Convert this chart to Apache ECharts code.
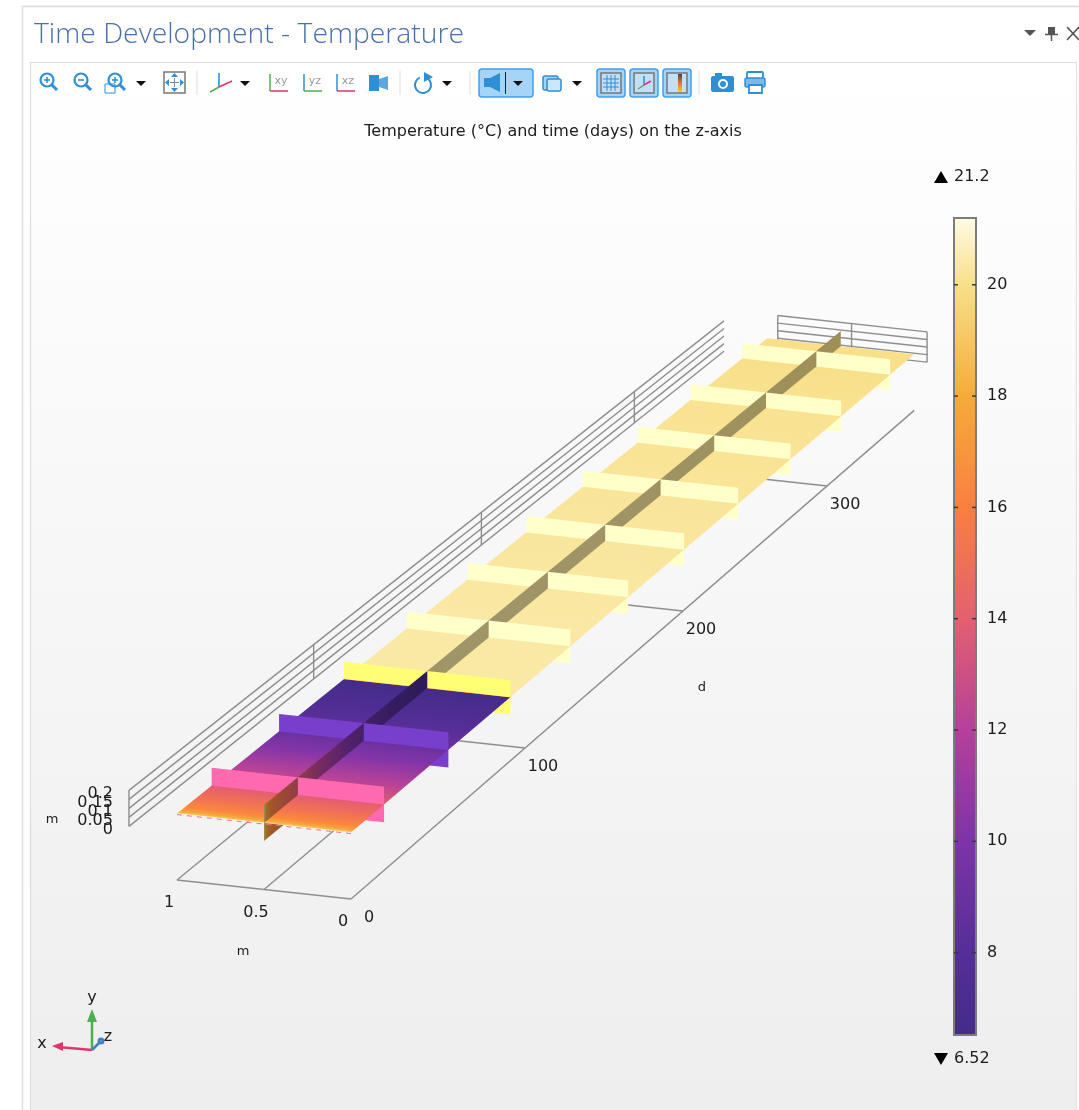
<!DOCTYPE html>
<html>
<head>
<meta charset="utf-8">
<title>Time Development - Temperature</title>
<script src="https://cdn.jsdelivr.net/npm/echarts@6/dist/echarts.min.js"></script>
<style>
html, body { margin: 0; padding: 0; background: #fff; }
#main { width: 1079px; height: 1110px; }
</style>
</head>
<body>
<div id="main"></div>
<script>
// colour table
var barValues = [6.52, 8, 10, 12, 14, 16, 18, 20, 21.2];
var barColors = ['#432c88', '#552e98', '#7d34a8', '#b5409a', '#e55f70', '#fb7f40', '#f5ac38', '#f8e08a', '#fffbe6'];
var barTicks = [8, 10, 12, 14, 16, 18, 20];
var barMin = 6.52;
var barMax = 21.2;

// surface temperature along the time axis (mid height of the plate)
var plateDays = [0, 0.5, 1.5, 4, 10, 18.25, 30, 45, 54.75, 70, 85, 90.8, 91.25, 92, 127.75, 164.25, 200.75, 237.25, 273.75, 310.25, 346.75, 365];
var plateTemps = [20.6, 18.8, 17.8, 16.4, 15.2, 13.9, 12.2, 10.2, 9.1, 7.8, 6.9, 6.6, 15, 20.35, 20.35, 20.3, 20.25, 20.2, 20.15, 20.1, 20.0, 19.95];

// cross sections drawn as upright faces
var sectionDays = [18.25, 54.75, 91.25, 127.75, 164.25, 200.75, 237.25, 273.75, 310.25, 346.75];
var sectionTemps = [13, 8.3, 18.8, 20.2, 20.2, 20.2, 20.2, 20.2, 20.2, 20.2];

// axis ticks
var xTicks = [0, 0.5, 1];
var yTicks = [0, 0.05, 0.1, 0.15, 0.2];
var dayTicks = [100, 200, 300];
var dayEnd = 365;

var sectionLight = 1.32;
var ribShade = 0.64;
var plateY = 0.1;
var plateTop = 0.2;
var floorY = -0.269;
var wallX = 1.276;
var wallEnd = 363;
var backDay = 372;
var backX = [-0.026, 0.49, 0.994];

// camera: x (m), y (m), t (days) -> picture coordinates
function project(x, y, t) {
    var T = t / 100;
    var w = 1 + 0.0506 * T;
    return [
        (351 - 174 * x + 200.56 * T) / w,
        (899 - 19 * x - 113.1 * T - 180 * (y - floorY)) / w
    ];
}

function hexRgb(c) {
    return [parseInt(c.substr(1, 2), 16), parseInt(c.substr(3, 2), 16), parseInt(c.substr(5, 2), 16)];
}

function tempColor(v, light) {
    var i = 0;
    while (i < barValues.length - 2 && v > barValues[i + 1]) i++;
    var f = (v - barValues[i]) / (barValues[i + 1] - barValues[i]);
    f = Math.max(0, Math.min(1, f));
    var a = hexRgb(barColors[i]), b = hexRgb(barColors[i + 1]);
    var out = [];
    for (var k = 0; k < 3; k++) {
        out.push(Math.min(255, Math.round((a[k] + (b[k] - a[k]) * f) * light)));
    }
    return 'rgb(' + out.join(',') + ')';
}

// a face is a polygon in data space, with a flat colour or a temperature run along t
function plateFace() {
    var a = 0, b = dayEnd;
    return {
        pts: [[1, plateY, a], [0, plateY, a], [0, plateY, b], [1, plateY, b]],
        from: 0, to: plateDays.length - 1, light: 1,
        iso: function (t) { return [[1, plateY, t], [0, plateY, t]]; }
    };
}
function ribFace(from, to, y0, y1) {
    var a = plateDays[from], b = plateDays[to];
    return {
        pts: [[0.5, y0, a], [0.5, y1, a], [0.5, y1, b], [0.5, y0, b]],
        from: from, to: to, light: ribShade,
        iso: function (t) { return [[0.5, y0, t], [0.5, y1, t]]; }
    };
}
function sectionFaces(k, y0, y1) {
    var t = sectionDays[k];
    var c = tempColor(sectionTemps[k], sectionLight);
    return [
        { pts: [[1, y0, t], [0.5, y0, t], [0.5, y1, t], [1, y1, t]], color: c },
        { pts: [[0.5, y0, t], [0, y0, t], [0, y1, t], [0.5, y1, t]], color: c }
    ];
}

// painter's order: below the plate, the plate, then above it from back to front
var faces = [];
function addLayer(y0, y1) {
    var to = plateDays.length - 1;
    for (var k = sectionDays.length - 1; k >= -1; k--) {
        var from = k >= 0 ? plateDays.indexOf(sectionDays[k]) : 0;
        faces.push(ribFace(from, to, y0, y1));
        if (k >= 0) faces = faces.concat(sectionFaces(k, y0, y1));
        to = from;
    }
}
addLayer(0, plateY);
faces.push(plateFace());
addLayer(plateY, plateTop);

// grid lines
var wallLines = [];
yTicks.forEach(function (y) {
    wallLines.push([[wallX, y, 0], [wallX, y, wallEnd]]);
    wallLines.push([[backX[0], y, backDay], [backX[2], y, backDay]]);
});
[0].concat(dayTicks).forEach(function (d) {
    wallLines.push([[wallX, 0, d], [wallX, plateTop, d]]);
});
backX.forEach(function (x) {
    wallLines.push([[x, 0, backDay], [x, plateTop, backDay]]);
});
var floorLines = [];
xTicks.forEach(function (x) {
    floorLines.push([[x, floorY, 0], [x, floorY, dayEnd]]);
});
[0].concat(dayTicks).forEach(function (d) {
    floorLines.push([[0, floorY, d], [1, floorY, d]]);
});

// tick labels: text, anchor in data space, pixel offset, alignment
var tickLabels = [];
yTicks.forEach(function (y) {
    tickLabels.push({ text: String(y), at: [wallX, y, 0], dx: -16, dy: 4, align: 'right' });
});
xTicks.forEach(function (x) {
    tickLabels.push({ text: String(x), at: [x, floorY, 0], dx: -8, dy: 23, align: 'center' });
});
[0].concat(dayTicks).forEach(function (d) {
    tickLabels.push({ text: String(d), at: [0, floorY, d], dx: 18, dy: 19, align: 'center' });
});

function toPixels(api, p) {
    return api.coord(project(p[0], p[1], p[2]));
}

function renderFace(params, api) {
    var f = faces[api.value(0)];
    var pts = f.pts.map(function (p) { return toPixels(api, p); });
    var fill = f.color;
    if (!fill) {
        // one gradient over the whole run, perpendicular to the constant-time edges
        var e0 = f.iso(plateDays[f.from]);
        var a0 = toPixels(api, e0[0]), a1 = toPixels(api, e0[1]);
        var ux = a1[0] - a0[0], uy = a1[1] - a0[1];
        var len = Math.sqrt(ux * ux + uy * uy);
        var nx = -uy / len, ny = ux / len;
        var along = function (t) {
            var p = toPixels(api, f.iso(t)[0]);
            return (p[0] - a0[0]) * nx + (p[1] - a0[1]) * ny;
        };
        var total = along(plateDays[f.to]);
        var stops = [];
        for (var i = f.from; i <= f.to; i++) {
            stops.push({ offset: along(plateDays[i]) / total, color: tempColor(plateTemps[i], f.light) });
        }
        fill = new echarts.graphic.LinearGradient(a0[0], a0[1], a0[0] + nx * total, a0[1] + ny * total, stops, true);
    }
    return {
        type: 'polygon',
        shape: { points: pts },
        style: { fill: fill }
    };
}

function lineSeries(lines, z) {
    return {
        type: 'custom',
        xAxisIndex: 0,
        yAxisIndex: 0,
        coordinateSystem: 'cartesian2d',
        silent: true,
        clip: false,
        z: z,
        data: lines.map(function (l, i) { return [i]; }),
        renderItem: function (params, api) {
            var l = lines[api.value(0)];
            var a = toPixels(api, l[0]), b = toPixels(api, l[1]);
            return {
                type: 'line',
                shape: { x1: a[0], y1: a[1], x2: b[0], y2: b[1] },
                style: { stroke: '#8e8e8e', lineWidth: 1.4 }
            };
        }
    };
}

var fontName = '"DejaVu Sans", sans-serif';
var ink = '#1c1c1c';
var blue = '#2f8fd6';

// --- window chrome, not data ---
function txt(x, y, s, size, align, color, weight, family) {
    return {
        type: 'text', silent: true, z: 30,
        style: {
            x: x, y: y, text: s, fill: color || ink, textAlign: align || 'center', textVerticalAlign: 'middle',
            font: (weight || 'normal') + ' ' + size + 'px ' + (family || fontName)
        }
    };
}
function rect(x, y, w, h, fill, stroke, r, lw) {
    return {
        type: 'rect', silent: true, z: 20, shape: { x: x, y: y, width: w, height: h, r: r || 0 },
        style: { fill: fill || 'none', stroke: stroke || 'none', lineWidth: lw || 1 }
    };
}
function seg(x1, y1, x2, y2, stroke, lw) {
    return {
        type: 'line', silent: true, z: 21, shape: { x1: x1, y1: y1, x2: x2, y2: y2 },
        style: { stroke: stroke, lineWidth: lw || 1 }
    };
}
function poly(points, fill) {
    return { type: 'polygon', silent: true, z: 21, shape: { points: points }, style: { fill: fill } };
}
function ring(cx, cy, r, stroke, lw) {
    return {
        type: 'circle', silent: true, z: 21, shape: { cx: cx, cy: cy, r: r },
        style: { fill: 'none', stroke: stroke, lineWidth: lw || 2 }
    };
}
function dropArrow(x, y) {
    return poly([[x - 5, y - 2], [x + 5, y - 2], [x, y + 3]], '#111');
}
function lens(cx, cy, plus) {
    var out = [ring(cx, cy, 6.5, blue, 2.2), seg(cx + 4.5, cy + 4.5, cx + 10, cy + 10, blue, 3)];
    out.push(seg(cx - 3, cy, cx + 3, cy, blue, 1.6));
    if (plus) out.push(seg(cx, cy - 3, cx, cy + 3, blue, 1.6));
    return out;
}
function planeIcon(x, label, c1, c2) {
    return [
        seg(x - 8, 74, x - 8, 91, c1, 1.5),
        seg(x - 8, 91, x + 10, 91, c2, 1.5),
        txt(x + 3, 81, label, 11, 'center', '#999')
    ];
}

var chrome = [
    {
        type: 'rect', silent: true, z: -5,
        shape: { x: 31, y: 63, width: 1045, height: 1047 },
        style: {
            fill: new echarts.graphic.LinearGradient(0, 0, 0, 1, [
                { offset: 0, color: '#ffffff' },
                { offset: 0.12, color: '#fdfdfd' },
                { offset: 1, color: '#eeeeee' }
            ])
        }
    },
    seg(22, 6.5, 1079, 6.5, '#dcdcdc', 1.5),
    seg(22.5, 6, 22.5, 1110, '#e0e0e0', 1.5),
    seg(30, 62.5, 1077, 62.5, '#dcdcdc', 1.2),
    seg(30.5, 62, 30.5, 1110, '#dcdcdc', 1.2),
    seg(1076.5, 62, 1076.5, 1110, '#e2e2e2', 1.2),
    txt(34, 35, 'Time Development - Temperature', 28.3, 'left', '#4a70a8', '300', '"Open Sans", sans-serif'),
    poly([[1024, 30], [1036, 30], [1030, 36]], '#555'),
    rect(1048, 27, 7, 7, '#555'),
    seg(1045, 34.5, 1058, 34.5, '#555', 1.5),
    seg(1051.5, 34, 1051.5, 41, '#555', 1.5),
    seg(1067, 27, 1079, 40, '#555', 1.6),
    seg(1067, 40, 1079, 27, '#555', 1.6)
];
chrome = chrome.concat(
    lens(47, 80, true), lens(81, 80, false), lens(115, 80, true),
    [rect(105, 84, 10, 9, 'none', blue), dropArrow(141, 83),
        rect(164, 72, 21, 21, 'none', '#777', 0, 1.5),
        seg(170, 82.5, 179, 82.5, '#888', 1), seg(174.5, 78, 174.5, 87, '#888', 1),
        poly([[174.5, 73], [171, 77], [178, 77]], blue), poly([[174.5, 92], [171, 88], [178, 88]], blue),
        poly([[165, 82.5], [169, 79], [169, 86]], blue), poly([[184, 82.5], [180, 79], [180, 86]], blue),
        seg(197, 71, 197, 95, '#ddd', 1),
        seg(219, 73, 219, 87, blue, 1.6), seg(219, 87, 210, 92, '#4fae4f', 1.6), seg(219, 87, 232, 81, '#e0336f', 1.6),
        dropArrow(245, 83)],
    planeIcon(278, 'xy', '#4fae4f', '#e0336f'),
    planeIcon(312, 'yz', '#2f8fd6', '#4fae4f'),
    planeIcon(345, 'xz', '#2f8fd6', '#e0336f'),
    [rect(369, 75, 10, 16, blue), poly([[379, 79], [388, 76], [388, 90], [379, 87]], '#5aa7e0'),
        seg(400, 71, 400, 95, '#ddd', 1),
        {
            type: 'arc', silent: true, z: 21, shape: { cx: 423, cy: 85, r: 8, startAngle: -1.0, endAngle: 4.3 },
            style: { fill: 'none', stroke: blue, lineWidth: 2 }
        },
        poly([[424, 72], [433, 77], [424, 82]], blue),
        dropArrow(447, 83), seg(470, 71, 470, 95, '#ddd', 1),
        rect(479, 69, 54, 28, '#a6d4f7', '#3fa0ef', 3, 1.5), seg(505.5, 72, 505.5, 94, '#222', 1),
        rect(484, 78, 6, 9, blue), poly([[490, 78], [500, 73], [500, 92], [490, 87]], blue),
        dropArrow(518, 83),
        rect(543, 76, 15, 14, '#a6d4f7', blue, 2, 1.5), rect(547, 79, 14, 12, '#cfe6f8', blue, 2, 1.5), dropArrow(577, 83),
        rect(597, 69, 28, 28, '#a6d4f7', '#3fa0ef', 3, 1.5), rect(601, 73, 20, 20, '#c2dff5', '#777', 0, 1.5),
        seg(607, 75, 607, 91, blue, 1), seg(611, 75, 611, 91, blue, 1), seg(615, 75, 615, 91, blue, 1),
        seg(603, 79, 619, 79, blue, 1), seg(603, 83, 619, 83, blue, 1), seg(603, 87, 619, 87, blue, 1),
        rect(630, 69, 28, 28, '#a6d4f7', '#3fa0ef', 3, 1.5), rect(634, 73, 20, 20, '#c2dff5', '#777', 0, 1.5),
        seg(644, 76, 644, 85, blue, 1.5), seg(644, 85, 638, 89, '#4fae4f', 1.5), seg(644, 85, 651, 81, '#e0336f', 1.5),
        rect(663, 69, 28, 28, '#a6d4f7', '#3fa0ef', 3, 1.5), rect(667, 73, 20, 20, '#c2dff5', '#777', 0, 1.5),
        {
            type: 'rect', silent: true, z: 22, shape: { x: 678, y: 74, width: 4, height: 18 },
            style: {
                fill: new echarts.graphic.LinearGradient(0, 0, 0, 1, [
                    { offset: 0, color: '#444' }, { offset: 0.5, color: '#e9742d' }, { offset: 1, color: '#f4c840' }
                ])
            }
        },
        seg(699, 71, 699, 95, '#ddd', 1),
        rect(711, 76, 23, 16, blue, null, 2), rect(715, 73, 7, 4, blue),
        ring(723, 84, 4, '#fff', 2),
        rect(747, 72, 16, 7, '#fff', blue, 1, 1.8), rect(745, 78, 20, 9, '#7db9e6', blue, 2, 1.5), rect(749, 85, 13, 8, '#fff', blue, 0, 1.8)]
);

// chart texts and markers
chrome.push(
    txt(553, 131.5, 'Temperature (°C) and time (days) on the z-axis', 16),
    poly([[934, 183], [948, 183], [941, 171]], '#000'),
    txt(954, 177, '21.2', 16, 'left'),
    poly([[934, 1053], [948, 1053], [941, 1065]], '#000'),
    txt(954, 1059, '6.52', 16, 'left'),
    txt(52, 820, 'm', 13),
    txt(243, 952, 'm', 13),
    txt(702, 688, 'd', 13),
    // orientation triad
    seg(92, 1050, 58, 1047, '#e0336f', 2.5), poly([[52, 1046], [63, 1042], [63, 1051]], '#e0336f'),
    seg(92, 1050, 92, 1020, '#4fae4f', 2.5), poly([[92, 1009], [87, 1022], [97, 1022]], '#4fae4f'),
    seg(92, 1050, 100, 1042, '#3f7fc4', 2.5), ring(101, 1041, 2, '#3f7fc4', 3),
    txt(42, 1044, 'x', 16), txt(92, 998, 'y', 16), txt(108, 1037, 'z', 16)
);

var option = {
    animation: false,
    grid: [
        { left: 0, top: 0, width: 1079, height: 1110, show: false },
        { left: 954, top: 218, width: 22, height: 817, show: false }
    ],
    xAxis: [
        { type: 'value', gridIndex: 0, min: 0, max: 1079, show: false },
        { type: 'value', gridIndex: 1, min: 0, max: 1, show: false }
    ],
    yAxis: [
        { type: 'value', gridIndex: 0, min: 0, max: 1110, inverse: true, show: false },
        {
            type: 'value', gridIndex: 1, min: barMin, max: barMax, position: 'right',
            splitLine: { show: false },
            axisLine: { show: false },
            axisTick: { show: false },
            axisLabel: {
                show: true, inside: false, margin: 11, customValues: barTicks, padding: [2, 0, 0, 0],
                color: ink, fontSize: 16, fontFamily: fontName
            }
        }
    ],
    graphic: { elements: chrome },
    series: [
        lineSeries(wallLines, 2),
        lineSeries(floorLines, 2),
        {
            type: 'custom',
            coordinateSystem: 'cartesian2d',
            xAxisIndex: 0,
            yAxisIndex: 0,
            silent: true,
            clip: false,
            z: 3,
            data: faces.map(function (f, i) { return [i]; }),
            renderItem: renderFace
        },
        {
            // pink rim along the front edge of the plate
            type: 'custom',
            coordinateSystem: 'cartesian2d',
            xAxisIndex: 0,
            yAxisIndex: 0,
            silent: true,
            clip: false,
            z: 4,
            data: [[0]],
            renderItem: function (params, api) {
                var a = toPixels(api, [1, plateY, 0]), b = toPixels(api, [0, plateY, 0]);
                return {
                    type: 'line',
                    shape: { x1: a[0], y1: a[1] + 1, x2: b[0], y2: b[1] + 1 },
                    style: { stroke: '#f0708a', lineWidth: 1, lineDash: [5, 5] }
                };
            }
        },
        {
            type: 'custom',
            coordinateSystem: 'cartesian2d',
            xAxisIndex: 0,
            yAxisIndex: 0,
            silent: true,
            clip: false,
            z: 5,
            data: tickLabels.map(function (l, i) { return [i]; }),
            renderItem: function (params, api) {
                var l = tickLabels[api.value(0)];
                var a = toPixels(api, l.at);
                return {
                    type: 'text',
                    style: {
                        x: a[0] + l.dx, y: a[1] + l.dy, text: l.text, fill: ink,
                        textAlign: l.align, textVerticalAlign: 'middle',
                        font: '16px ' + fontName
                    }
                };
            }
        },
        {
            // colour bar
            type: 'custom',
            coordinateSystem: 'cartesian2d',
            xAxisIndex: 1,
            yAxisIndex: 1,
            silent: true,
            clip: false,
            z: 3,
            data: [[0]],
            renderItem: function (params, api) {
                var a = api.coord([0, barMax]), b = api.coord([1, barMin]);
                var stops = barValues.map(function (v, i) {
                    return { offset: (barMax - v) / (barMax - barMin), color: barColors[i] };
                }).reverse();
                return {
                    type: 'rect',
                    shape: { x: a[0], y: a[1], width: b[0] - a[0], height: b[1] - a[1] },
                    style: {
                        fill: new echarts.graphic.LinearGradient(0, 0, 0, 1, stops),
                        stroke: '#7c7c7c', lineWidth: 2
                    }
                };
            }
        },
        {
            // colour bar tick marks, inside on both sides
            type: 'custom',
            coordinateSystem: 'cartesian2d',
            xAxisIndex: 1,
            yAxisIndex: 1,
            silent: true,
            clip: false,
            z: 4,
            data: barTicks.map(function (v) { return [0, v]; }),
            renderItem: function (params, api) {
                var a = api.coord([0, api.value(1)]), b = api.coord([1, api.value(1)]);
                var tick = { stroke: '#3a3a3a', lineWidth: 1.5 };
                return {
                    type: 'group',
                    children: [
                        { type: 'line', shape: { x1: a[0], y1: a[1], x2: a[0] + 4, y2: a[1] }, style: tick },
                        { type: 'line', shape: { x1: b[0] - 4, y1: b[1], x2: b[0], y2: b[1] }, style: tick }
                    ]
                };
            }
        }
    ]
};

var chart = echarts.init(document.getElementById('main'));
chart.setOption(option);
</script>
</body>
</html>
